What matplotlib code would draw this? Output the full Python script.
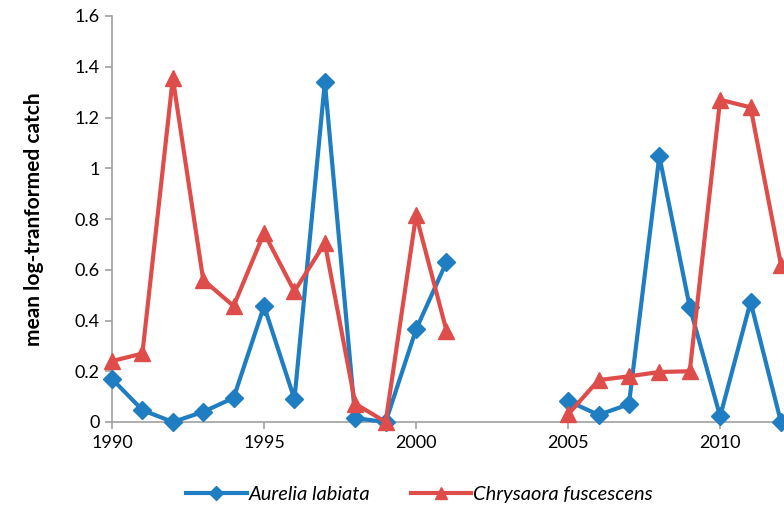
import matplotlib
matplotlib.use("Agg")
import matplotlib.pyplot as plt
import numpy as np

# Jellyfish catch by year (gaps 2002-2004 have no survey)
years = list(range(1990, 2013))
nan = np.nan
aurelia = [0.17, 0.047, 0.0, 0.04, 0.095, 0.457, 0.09, 1.34, 0.015, 0.0, 0.365, 0.63,
           nan, nan, nan,
           0.083, 0.028, 0.07, 1.048, 0.453, 0.022, 0.473, 0.0]
chrysaora = [0.24, 0.27, 1.355, 0.56, 0.457, 0.745, 0.515, 0.705, 0.072, 0.0, 0.815, 0.36,
             nan, nan, nan,
             0.03, 0.165, 0.18, 0.197, 0.2, 1.27, 1.24, 0.62]
ytick_vals = [0, 0.2, 0.4, 0.6, 0.8, 1.0, 1.2, 1.4, 1.6]
ytick_labels = ["0", "0.2", "0.4", "0.6", "0.8", "1", "1.2", "1.4", "1.6"]
xtick_vals = [1990, 1995, 2000, 2005, 2010]

blue = "#1f7ec1"
red = "#de4d4a"
grey = "#a0a0a0"

plt.rcParams['font.family'] = ['Lato', 'DejaVu Sans']

fig = plt.figure(figsize=(7.84, 5.08), dpi=100)
ax = fig.add_axes([112/784, 86/508, 672/784, 406/508])

ax.plot(years, aurelia, color=blue, lw=3, marker="D", markersize=9,
        label="Aurelia labiata", clip_on=False, zorder=3)
ax.plot(years, chrysaora, color=red, lw=3, marker="^", markersize=11,
        label="Chrysaora fuscescens", clip_on=False, zorder=3)

ax.set_xlim(1990, 2012.1)
ax.set_ylim(0, 1.6)
ax.set_xticks(xtick_vals)
ax.set_xticklabels([str(v) for v in xtick_vals], fontsize=13)
ax.set_yticks(ytick_vals)
ax.set_yticklabels(ytick_labels, fontsize=13)
ax.set_ylabel("mean log-tranformed catch", fontsize=15, fontweight="bold", labelpad=22)

for s in ["top", "right"]:
    ax.spines[s].set_visible(False)
for s in ["left", "bottom"]:
    ax.spines[s].set_color(grey)
    ax.spines[s].set_linewidth(1.2)
ax.tick_params(axis="both", direction="out", length=5, color=grey, width=1.2, pad=4)

leg = fig.legend(loc="center", bbox_to_anchor=(0.535, 0.027), ncol=2, frameon=False,
                 handlelength=3.0, columnspacing=2.0, handletextpad=0.1,
                 markerscale=0.8, prop={'style': 'italic', 'size': 14.5})

fig.savefig("out.png", dpi=100)
